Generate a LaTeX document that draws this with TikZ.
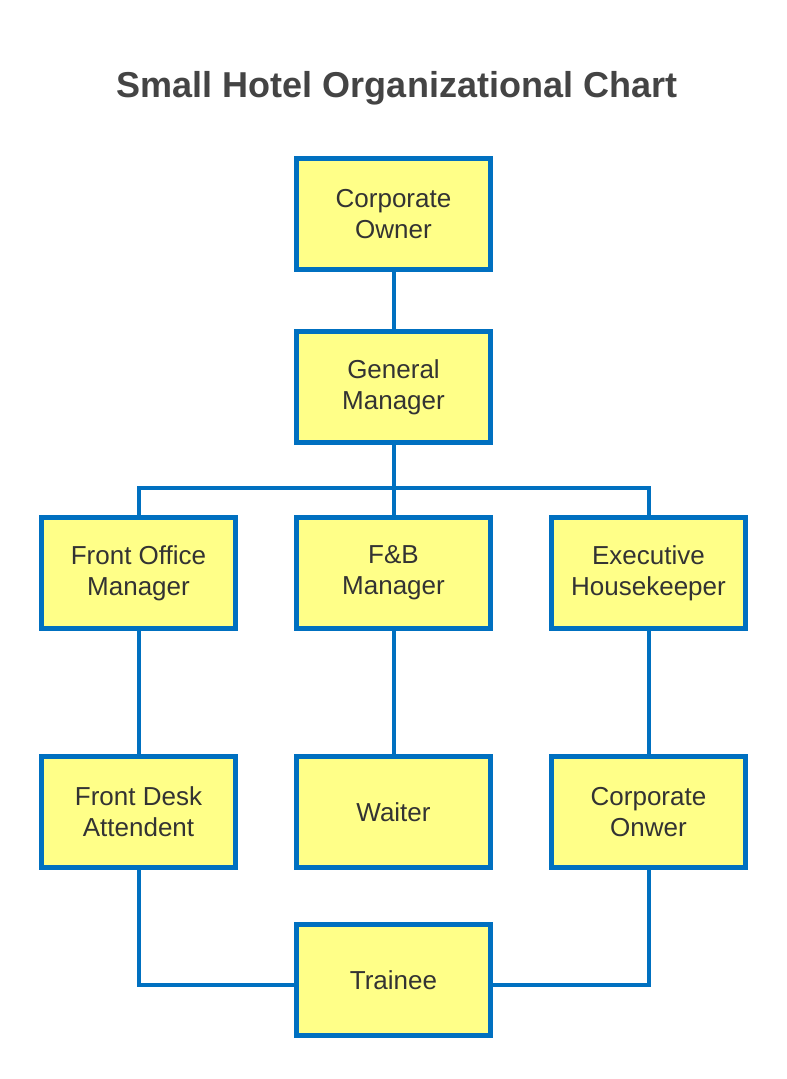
\documentclass[tikz,border=0pt]{standalone}
\usepackage{fontspec}
\setmainfont{Liberation Sans}
\usetikzlibrary{positioning}
\definecolor{bleu}{RGB}{0,112,192}
\definecolor{jaune}{RGB}{255,255,136}
\definecolor{texte}{RGB}{51,51,51}
\definecolor{gristitre}{RGB}{68,68,68}

\tikzset{
  poste/.style={draw=bleu, line width=3.75pt, fill=jaune, text=texte, minimum width=145.5pt, minimum height=83.25pt, inner sep=0pt, align=center, font=\fontsize{19.5}{23.5}\selectfont},
  lien/.style={draw=bleu, line width=3pt}
}

\begin{document}
\begin{tikzpicture}[x=0.75pt, y=-0.75pt]

\useasboundingbox (0,0) rectangle (787,1079);

% titre
\node[text=gristitre, font=\bfseries\fontsize{27}{32}\selectfont] (titre) at (397,88) {Small Hotel Organizational Chart};

% direction
\node[poste] (owner) at (393.5,214) {Corporate\\Owner};
\node[poste] (gm) at (393.5,387) {General\\Manager};

% managers
\node[poste] (fo) at (138.5,573) {Front Office\\Manager};
\node[poste] (fb) at (393.5,573) {F\&B\\Manager};
\node[poste] (hk) at (648.5,573) {Executive\\Housekeeper};

% personnel
\node[poste] (desk) at (138.5,812) {Front Desk\\Attendent};
\node[poste] (waiter) at (393.5,812) {Waiter};
\node[poste] (onwer) at (648.5,812) {Corporate\\Onwer};
\node[poste] (trainee) at (393.5,980) {Trainee};

% liens
\coordinate (bus) at (393.5,488);
\draw[lien] (owner) -- (gm);
\draw[lien] (gm) -- (fb);
\draw[lien] (fo.north) |- (bus) -| (hk.north);
\draw[lien] (fo) -- (desk);
\draw[lien] (fb) -- (waiter);
\draw[lien] (hk) -- (onwer);
\draw[lien] (desk.south) |- ([yshift=-3.75pt]trainee.west);
\draw[lien] (onwer.south) |- ([yshift=-3.75pt]trainee.east);

\end{tikzpicture}
\end{document}
